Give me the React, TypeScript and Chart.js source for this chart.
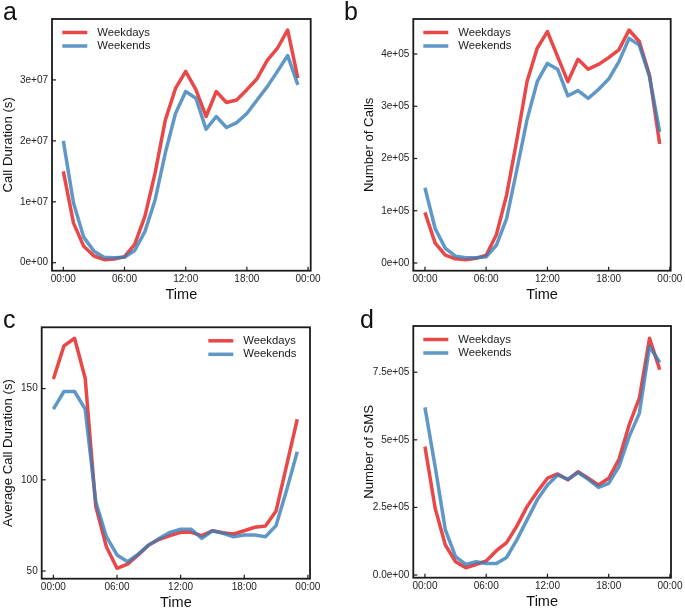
import React, { useEffect, useRef } from "react";
import { Chart, registerables } from "chart.js";

Chart.register(...registerables);

// ---------- data ----------
const hours = [0, 1, 2, 3, 4, 5, 6, 7, 8, 9, 10, 11, 12, 13, 14, 15, 16, 17, 18, 19, 20, 21, 22, 23];
const xTickValues = [0, 6, 12, 18, 24];
const xTickLabels = ["00:00", "06:00", "12:00", "18:00", "00:00"];
const seriesNames = ["Weekdays", "Weekends"];

const callDurationWeekdays = [1.5e7, 0.65e7, 0.27e7, 0.11e7, 0.05e7, 0.06e7, 0.1e7, 0.3e7, 0.76e7, 1.47e7, 2.34e7, 2.86e7, 3.14e7, 2.84e7, 2.4e7, 2.81e7, 2.63e7, 2.67e7, 2.84e7, 3.02e7, 3.32e7, 3.52e7, 3.82e7, 3.03e7];
const callDurationWeekends = [2.0e7, 0.98e7, 0.42e7, 0.19e7, 0.09e7, 0.08e7, 0.09e7, 0.2e7, 0.51e7, 1.03e7, 1.8e7, 2.45e7, 2.81e7, 2.7e7, 2.19e7, 2.4e7, 2.22e7, 2.3e7, 2.45e7, 2.67e7, 2.89e7, 3.14e7, 3.4e7, 2.92e7];
const callDurationTicks = [0, 1e7, 2e7, 3e7];
const callDurationTickLabels = ["0e+00", "1e+07", "2e+07", "3e+07"];

const callsWeekdays = [0.97e5, 0.38e5, 0.15e5, 0.08e5, 0.06e5, 0.09e5, 0.15e5, 0.54e5, 1.3e5, 2.35e5, 3.47e5, 4.11e5, 4.43e5, 3.95e5, 3.47e5, 3.9e5, 3.71e5, 3.8e5, 3.93e5, 4.08e5, 4.46e5, 4.24e5, 3.6e5, 2.28e5];
const callsWeekends = [1.44e5, 0.66e5, 0.28e5, 0.13e5, 0.1e5, 0.1e5, 0.12e5, 0.34e5, 0.85e5, 1.78e5, 2.74e5, 3.47e5, 3.82e5, 3.71e5, 3.2e5, 3.3e5, 3.15e5, 3.32e5, 3.52e5, 3.85e5, 4.3e5, 4.17e5, 3.57e5, 2.51e5];
const callsTicks = [0, 1e5, 2e5, 3e5, 4e5];
const callsTickLabels = ["0e+00", "1e+05", "2e+05", "3e+05", "4e+05"];

const avgDurationWeekdays = [155.3, 173.4, 177.6, 155.7, 85.3, 63.3, 51.5, 53.8, 58.8, 64.3, 67.4, 69.4, 71.2, 71.2, 69.4, 72.1, 71.0, 70.3, 72.1, 74.0, 74.7, 82.9, 108.1, 133.2];
const avgDurationWeekends = [138.7, 148.4, 148.4, 138.7, 88.0, 68.8, 58.8, 55.1, 59.3, 64.3, 67.9, 71.2, 72.9, 72.9, 67.9, 72.1, 70.7, 68.8, 69.7, 69.7, 68.8, 74.9, 94.4, 115.4];
const avgDurationTicks = [50, 100, 150];
const avgDurationTickLabels = ["50", "100", "150"];

const smsWeekdays = [4.75e5, 2.47e5, 1.11e5, 0.49e5, 0.27e5, 0.39e5, 0.52e5, 0.9e5, 1.2e5, 1.81e5, 2.53e5, 3.08e5, 3.58e5, 3.74e5, 3.52e5, 3.82e5, 3.58e5, 3.33e5, 3.58e5, 4.28e5, 5.55e5, 6.54e5, 8.76e5, 7.59e5];
const smsWeekends = [6.2e5, 4.01e5, 1.67e5, 0.68e5, 0.39e5, 0.49e5, 0.43e5, 0.43e5, 0.65e5, 1.3e5, 2.04e5, 2.78e5, 3.33e5, 3.7e5, 3.54e5, 3.79e5, 3.54e5, 3.24e5, 3.39e5, 4.01e5, 5.12e5, 5.98e5, 8.45e5, 7.86e5];
const smsTicks = [0, 2.5e5, 5e5, 7.5e5];
const smsTickLabels = ["0.0e+00", "2.5e+05", "5e+05", "7.5e+05"];

// ---------- styling / layout ----------
const W = 685;
const H = 611;
const FONT = '"Liberation Sans", Arial, Helvetica, sans-serif';
const RED = "rgba(228,26,28,0.8)";
const BLUE = "rgba(55,126,184,0.8)";
const X_AXIS_H = 33;
const LINE_W = 3.5;

type Panel = {
  letter: string;
  letterPos: [number, number];
  area: { l: number; t: number; r: number; b: number };
  axisLeft: number;
  xRange: [number, number];
  yRange: [number, number];
  yTitle: string;
  weekdays: number[];
  weekends: number[];
  yTicks: number[];
  yTickLabels: string[];
  legendX: number;
};

const panels: Panel[] = [
  {
    letter: "a", letterPos: [3, 20],
    area: { l: 52, t: 19, r: 310.7, b: 270.7 }, axisLeft: 0.4,
    xRange: [-1.11, 24.26], yRange: [-1.31e6, 4.0e7],
    yTitle: "Call Duration (s)", weekdays: callDurationWeekdays, weekends: callDurationWeekends,
    yTicks: callDurationTicks, yTickLabels: callDurationTickLabels, legendX: 10.3,
  },
  {
    letter: "b", letterPos: [344, 20],
    area: { l: 413.3, t: 19, r: 670.7, b: 270.7 }, axisLeft: 361.3,
    xRange: [-1.14, 24.08], yRange: [-0.147e5, 4.67e5],
    yTitle: "Number of Calls", weekdays: callsWeekdays, weekends: callsWeekends,
    yTicks: callsTicks, yTickLabels: callsTickLabels, legendX: 10,
  },
  {
    letter: "c", letterPos: [3, 328.3],
    area: { l: 41.7, t: 327.3, r: 310, b: 578.7 }, axisLeft: 0.4,
    xRange: [-1.1, 24.2], yRange: [45.8, 183.6],
    yTitle: "Average Call Duration (s)", weekdays: avgDurationWeekdays, weekends: avgDurationWeekends,
    yTicks: avgDurationTicks, yTickLabels: avgDurationTickLabels, legendX: 166.6,
  },
  {
    letter: "d", letterPos: [360, 328.3],
    area: { l: 413.3, t: 326, r: 671, b: 577.7 }, axisLeft: 361.3,
    xRange: [-1.14, 24.1], yRange: [-0.099e5, 9.21e5],
    yTitle: "Number of SMS", weekdays: smsWeekdays, weekends: smsWeekends,
    yTicks: smsTicks, yTickLabels: smsTickLabels, legendX: 10,
  },
];

function makeDecoPlugin(p: Panel) {
  return {
    id: "panelDeco" + p.letter,
    afterDraw(chart: any) {
      const ctx = chart.ctx as CanvasRenderingContext2D;
      const ca = chart.chartArea;
      ctx.save();
      // inward tick marks
      ctx.strokeStyle = "#1a1a1a";
      ctx.lineWidth = 1.2;
      const xs = chart.scales.x;
      const ys = chart.scales.y;
      xs.ticks.forEach((t: any) => {
        const px = xs.getPixelForValue(t.value);
        ctx.beginPath();
        ctx.moveTo(px, ca.bottom);
        ctx.lineTo(px, ca.bottom - 4);
        ctx.stroke();
      });
      ys.ticks.forEach((t: any) => {
        const py = ys.getPixelForValue(t.value);
        ctx.beginPath();
        ctx.moveTo(ca.left, py);
        ctx.lineTo(ca.left + 4, py);
        ctx.stroke();
      });
      // frame
      ctx.lineWidth = 1.8;
      ctx.strokeStyle = "#1a1a1a";
      ctx.strokeRect(ca.left, ca.top, ca.right - ca.left, ca.bottom - ca.top);
      // legend
      const colors = [RED, BLUE];
      const rows = [13.5, 27];
      ctx.font = `11.3px ${FONT}`;
      ctx.textBaseline = "middle";
      ctx.textAlign = "left";
      seriesNames.forEach((name, i) => {
        const y = ca.top + rows[i];
        const x0 = ca.left + p.legendX;
        ctx.strokeStyle = colors[i];
        ctx.lineWidth = LINE_W;
        ctx.beginPath();
        ctx.moveTo(x0, y);
        ctx.lineTo(x0 + 25, y);
        ctx.stroke();
        ctx.fillStyle = "#1a1a1a";
        ctx.fillText(name, x0 + 35, y);
      });
      // panel letter
      ctx.font = `25px ${FONT}`;
      ctx.textBaseline = "alphabetic";
      ctx.fillStyle = "#111";
      ctx.fillText(p.letter, p.letterPos[0], p.letterPos[1]);
      ctx.restore();
    },
  };
}

function PanelChart({ p }: { p: Panel }) {
  const ref = useRef<HTMLCanvasElement | null>(null);
  useEffect(() => {
    if (!ref.current) return;
    const yWidth = p.area.l - p.axisLeft;
    const chart = new Chart(ref.current, {
      type: "line",
      data: {
        datasets: [
          {
            label: seriesNames[0],
            data: hours.map((h, i) => ({ x: h, y: p.weekdays[i] })),
            borderColor: RED,
            borderWidth: LINE_W,
            pointRadius: 0,
            tension: 0,
            fill: false,
            borderJoinStyle: "round",
            order: 1,
          },
          {
            label: seriesNames[1],
            data: hours.map((h, i) => ({ x: h, y: p.weekends[i] })),
            borderColor: BLUE,
            borderWidth: LINE_W,
            pointRadius: 0,
            tension: 0,
            fill: false,
            borderJoinStyle: "round",
            order: 0,
          },
        ],
      },
      options: {
        responsive: false,
        animation: false,
        events: [],
        layout: {
          padding: {
            left: p.axisLeft,
            top: p.area.t,
            right: W - p.area.r,
            bottom: H - (p.area.b + X_AXIS_H),
          },
        },
        plugins: {
          legend: { display: false },
          tooltip: { enabled: false },
          title: { display: false },
        },
        scales: {
          x: {
            type: "linear",
            min: p.xRange[0],
            max: p.xRange[1],
            grid: { display: false, drawTicks: false },
            border: { display: false },
            afterBuildTicks: (s: any) => {
              s.ticks = xTickValues.map((v) => ({ value: v }));
            },
            afterFit: (s: any) => {
              s.height = X_AXIS_H;
              s.paddingLeft = 0;
              s.paddingRight = 0;
            },
            ticks: {
              autoSkip: false,
              maxRotation: 0,
              minRotation: 0,
              padding: 3,
              color: "#222",
              font: { family: FONT, size: 10 },
              callback: (v: any) => {
                const idx = xTickValues.indexOf(Number(v));
                return idx >= 0 ? xTickLabels[idx] : "";
              },
            },
            title: {
              display: true,
              text: "Time",
              color: "#111",
              font: { family: FONT, size: 14.5 },
              padding: { top: 0, bottom: 0 },
            },
          },
          y: {
            type: "linear",
            min: p.yRange[0],
            max: p.yRange[1],
            grid: { display: false, drawTicks: false },
            border: { display: false },
            afterBuildTicks: (s: any) => {
              s.ticks = p.yTicks.map((v) => ({ value: v }));
            },
            afterFit: (s: any) => {
              s.width = yWidth;
              s.paddingTop = 0;
              s.paddingBottom = 0;
            },
            ticks: {
              autoSkip: false,
              padding: 4,
              color: "#222",
              font: { family: FONT, size: 10 },
              callback: (v: any) => {
                const idx = p.yTicks.indexOf(Number(v));
                return idx >= 0 ? p.yTickLabels[idx] : "";
              },
            },
            title: {
              display: true,
              text: p.yTitle,
              color: "#111",
              font: { family: FONT, size: 13.2 },
              padding: { top: 0, bottom: 0 },
            },
          },
        },
      },
      plugins: [makeDecoPlugin(p)],
    } as any);
    return () => chart.destroy();
  }, [p]);
  return (
    <canvas
      ref={ref}
      width={W}
      height={H}
      style={{ position: "absolute", left: 0, top: 0, width: W, height: H }}
    />
  );
}

export default function App() {
  return (
    <div style={{ position: "absolute", left: 0, top: 0, width: W, height: H, background: "#fff" }}>
      {panels.map((p) => (
        <PanelChart key={p.letter} p={p} />
      ))}
    </div>
  );
}
